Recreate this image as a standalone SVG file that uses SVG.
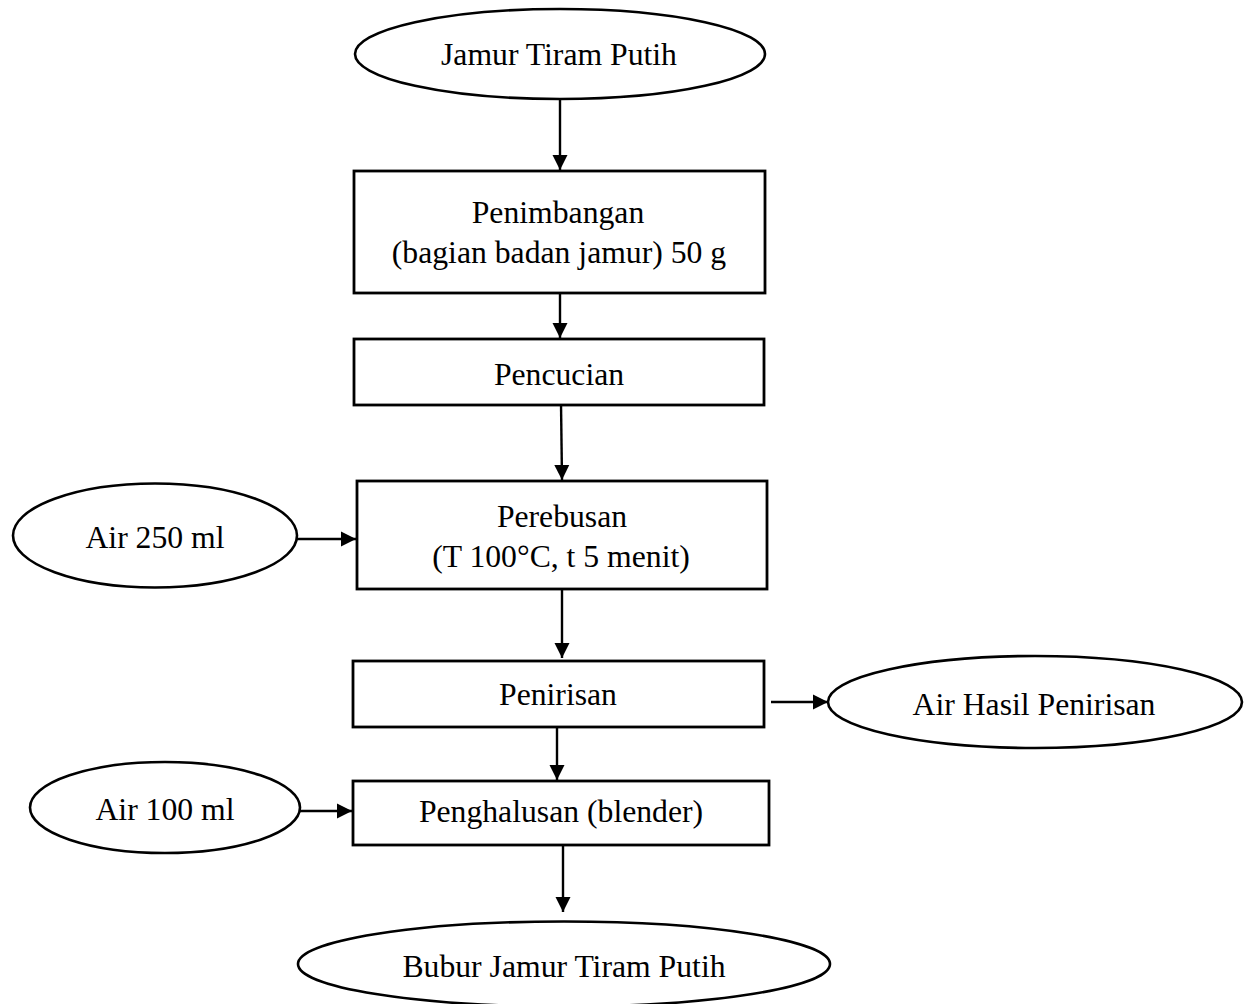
<svg xmlns="http://www.w3.org/2000/svg" width="1251" height="1004" viewBox="0 0 1251 1004">
<style>
.box{fill:#fff;stroke:#000;stroke-width:2.8}
.ell{fill:#fff;stroke:#000;stroke-width:2.6}
.lbl{font-family:"Liberation Serif","Times New Roman",serif;font-size:31.7px;fill:#000;text-anchor:middle}
.con{fill:none;stroke:#000;stroke-width:2.4;marker-end:url(#arr)}
</style>
<defs>
<marker id="arr" markerUnits="userSpaceOnUse" markerWidth="17" markerHeight="17" refX="15" refY="8" orient="auto">
<path d="M0,0.5 L15,8 L0,15.5 z" fill="#000"/>
</marker>
</defs>
<rect width="1251" height="1004" fill="#fff"/>
<g id="connectors">
<line class="con" x1="560" y1="99" x2="560" y2="170"/>
<line class="con" x1="560" y1="293" x2="560" y2="338"/>
<line class="con" x1="561" y1="403" x2="562" y2="480"/>
<line class="con" x1="297" y1="539" x2="356" y2="539"/>
<line class="con" x1="562" y1="584" x2="562" y2="658"/>
<line class="con" x1="771" y1="702" x2="828" y2="702"/>
<line class="con" x1="557" y1="722" x2="557" y2="780"/>
<line class="con" x1="300" y1="811" x2="352" y2="811"/>
<line class="con" x1="563" y1="845" x2="563" y2="912"/>
</g>
<g id="n-jamur">
<ellipse class="ell" cx="560" cy="54" rx="205" ry="45"/>
<text class="lbl" x="559" y="65">Jamur Tiram Putih</text>
</g>
<g id="n-penimbangan">
<rect class="box" x="354" y="171" width="411" height="122"/>
<text class="lbl" x="558" y="223">Penimbangan</text>
<text class="lbl" x="559" y="263">(bagian badan jamur) 50 g</text>
</g>
<g id="n-pencucian">
<rect class="box" x="354" y="339" width="410" height="66"/>
<text class="lbl" x="559" y="385">Pencucian</text>
</g>
<g id="n-air250">
<ellipse class="ell" cx="155" cy="535.5" rx="142" ry="52"/>
<text class="lbl" x="155" y="548">Air 250 ml</text>
</g>
<g id="n-perebusan">
<rect class="box" x="357" y="481" width="410" height="108"/>
<text class="lbl" x="562" y="527">Perebusan</text>
<text class="lbl" x="561" y="567">(T 100°C, t 5 menit)</text>
</g>
<g id="n-penirisan">
<rect class="box" x="353" y="661" width="411" height="66"/>
<text class="lbl" x="558" y="705">Penirisan</text>
</g>
<g id="n-airhasil">
<ellipse class="ell" cx="1035" cy="702" rx="207" ry="46"/>
<text class="lbl" x="1034" y="715">Air Hasil Penirisan</text>
</g>
<g id="n-air100">
<ellipse class="ell" cx="165" cy="807.5" rx="135" ry="45.5"/>
<text class="lbl" x="165" y="820">Air 100 ml</text>
</g>
<g id="n-penghalusan">
<rect class="box" x="353" y="781" width="416" height="64"/>
<text class="lbl" x="561" y="822">Penghalusan (blender)</text>
</g>
<g id="n-bubur">
<ellipse class="ell" cx="564" cy="964" rx="266" ry="42.5"/>
<text class="lbl" x="564" y="977">Bubur Jamur Tiram Putih</text>
</g>
</svg>
